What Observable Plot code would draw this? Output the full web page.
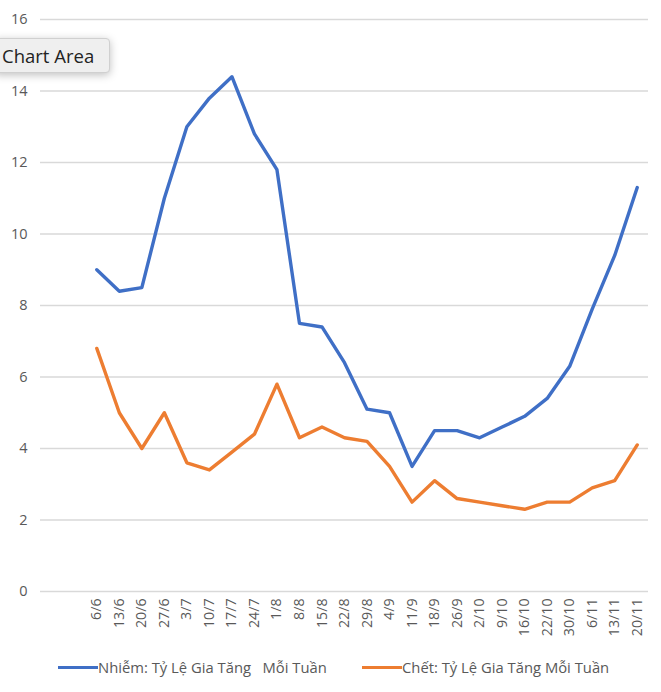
<!DOCTYPE html>
<html><head><meta charset="utf-8">
<script src="https://cdn.jsdelivr.net/npm/d3@7"></script>
<script src="https://cdn.jsdelivr.net/npm/@observablehq/plot@0.6"></script>
<style>
body{margin:0;background:#fff;font-family:"Open Sans",sans-serif;}
#wrap{position:relative;width:661px;height:692px;overflow:hidden;}
#legend{position:absolute;top:657px;left:0;width:661px;height:26px;font-size:14.8px;color:#595959;}
.item{position:absolute;top:0;display:flex;align-items:center;white-space:pre;}
.sw{display:inline-block;width:40px;height:3px;}
#tip{position:absolute;left:-6px;top:38px;width:116px;height:35px;background:#efefef;border:1px solid #d0d0d0;border-radius:4px;box-shadow:0 2px 8px rgba(0,0,0,0.25);font-size:18.5px;color:#222;line-height:33px;padding-left:7px;box-sizing:border-box;white-space:nowrap;}
</style></head>
<body><div id="wrap"><div id="chart"></div>
<div id="legend"></div>
<div id="tip">Chart Area</div></div>
<script>
const weeks = ["6/6","13/6","20/6","27/6","3/7","10/7","17/7","24/7","1/8","8/8","15/8","22/8","29/8","4/9","11/9","18/9","26/9","2/10","9/10","16/10","22/10","30/10","6/11","13/11","20/11"];
const infections = [9.0,8.4,8.5,11.0,13.0,13.8,14.4,12.8,11.8,7.5,7.4,6.4,5.1,5.0,3.5,4.5,4.5,4.3,4.6,4.9,5.4,6.3,7.9,9.4,11.3];
const deaths = [6.8,5.0,4.0,5.0,3.6,3.4,3.9,4.4,5.8,4.3,4.6,4.3,4.2,3.5,2.5,3.1,2.6,2.5,2.4,2.3,2.5,2.5,2.9,3.1,4.1];
const seriesNames = ["Nhiễm: Tỷ Lệ Gia Tăng   Mỗi Tuần", "Chết: Tỷ Lệ Gia Tăng Mỗi Tuần"];
const colors = ["#3F6FC6", "#ED7D31"];
const yTicks = [0,2,4,6,8,10,12,14,16];

const rows = [];
weeks.forEach((w,i)=>{
  rows.push({i, s: seriesNames[0], v: infections[i]});
  rows.push({i, s: seriesNames[1], v: deaths[i]});
});

const plot = Plot.plot({
  width: 661, height: 648,
  marginLeft: 40, marginRight: 13, marginTop: 19, marginBottom: 57,
  style: {fontFamily: '"Open Sans", sans-serif', color: "#595959"},
  x: {type: "linear", domain: [-2.5, 24.5], label: null},
  y: {domain: [0, 16], label: null},
  color: {domain: seriesNames, range: colors},
  marks: [
    Plot.ruleY(yTicks, {stroke: "#d9d9d9", strokeWidth: 1.3}),
    Plot.axisY({ticks: yTicks, tickSize: 0, tickPadding: 13, fontSize: 14.5, label: null}),
    Plot.axisX({ticks: d3.range(weeks.length), tickFormat: d => weeks[d], tickSize: 0, tickRotate: -90, tickPadding: 7, fontSize: 14.2, label: null}),
    Plot.line(rows, {x: "i", y: "v", z: "s", stroke: "s", strokeWidth: 3.4, strokeLinejoin: "round"})
  ]
});
document.getElementById("chart").appendChild(plot);

const leg = document.getElementById("legend");
[[58, 0],[362, 1]].forEach(([x, k])=>{
  const d = document.createElement("div");
  d.className = "item"; d.style.left = x + "px";
  const sw = document.createElement("span"); sw.className = "sw"; sw.style.background = colors[k];
  const t = document.createElement("span"); t.textContent = seriesNames[k];
  d.appendChild(sw); d.appendChild(t); leg.appendChild(d);
});
</script></body></html>
